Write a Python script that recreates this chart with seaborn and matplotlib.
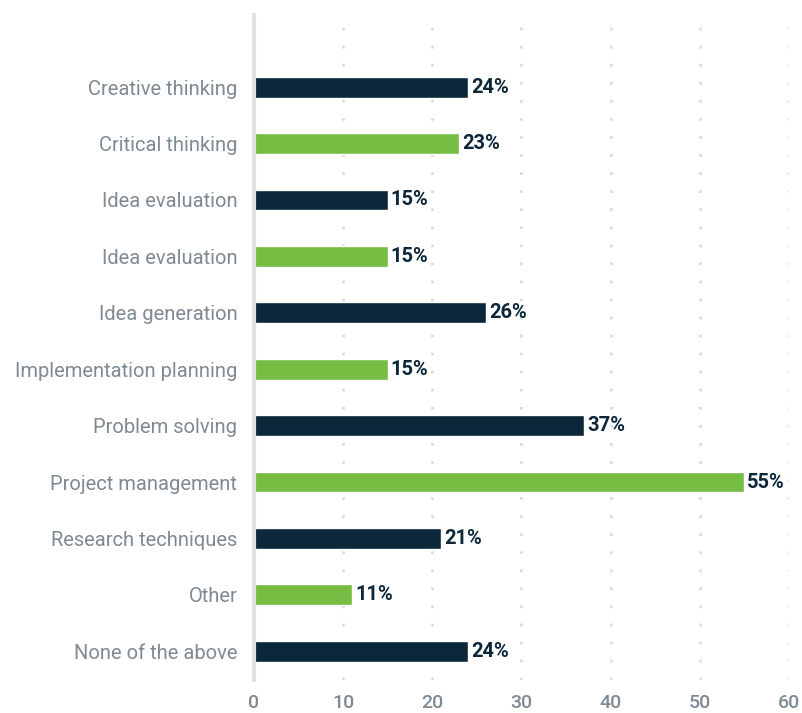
import matplotlib
matplotlib.use("Agg")
import matplotlib.pyplot as plt
import seaborn as sns
import pandas as pd

skills = [
    "Creative thinking", "Critical thinking", "Idea evaluation", "Idea evaluation",
    "Idea generation", "Implementation planning", "Problem solving",
    "Project management", "Research techniques", "Other", "None of the above",
]
shares = [24, 23, 15, 15, 26, 15, 37, 55, 21, 11, 24]
ticks = [0, 10, 20, 30, 40, 50, 60]

navy = "#0b2739"
green = "#78bd43"
grey_text = "#7f8a93"
colors = [navy if i % 2 == 0 else green for i in range(len(skills))]

sns.set_theme(style="white")
plt.rcParams["font.family"] = ["Roboto", "DejaVu Sans"]

df = pd.DataFrame({"pos": [str(i) for i in range(len(skills))], "share": shares})

fig = plt.figure(figsize=(8.03, 7.13), dpi=100)
ax = fig.add_axes([0.3163, 0.0463, 0.666, 0.9327])

sns.barplot(data=df, y="pos", x="share", hue="pos", palette=colors,
            orient="h", width=0.37, legend=False, ax=ax, saturation=1)

for i, v in enumerate(shares):
    ax.text(v + 0.35, i, f"{v}%", va="center", ha="left",
            fontsize=14.5, fontweight="bold", color=navy)

ax.set_xlim(0, 60)
ax.set_ylim(10.51, -1.28)
ax.set_xticks(ticks)
ax.set_xticklabels([str(t) for t in ticks], fontsize=14, color=grey_text, fontweight="medium")
ax.set_yticks(range(len(skills)))
ax.set_yticklabels(skills, fontsize=14.5, color=grey_text)
ax.set_xlabel("")
ax.set_ylabel("")
ax.tick_params(axis="x", length=0, pad=10)
ax.tick_params(axis="y", length=0, pad=12)

for t in ticks[1:]:
    ax.axvline(t, color="#d9dde0", linestyle=(0, (1, 5.5)), linewidth=2, zorder=0)

for s in ["top", "right", "bottom"]:
    ax.spines[s].set_visible(False)
ax.spines["left"].set_color("#e3e3e3")
ax.spines["left"].set_linewidth(3)
ax.set_facecolor("white")

fig.savefig("out.png", dpi=100, facecolor="white")
